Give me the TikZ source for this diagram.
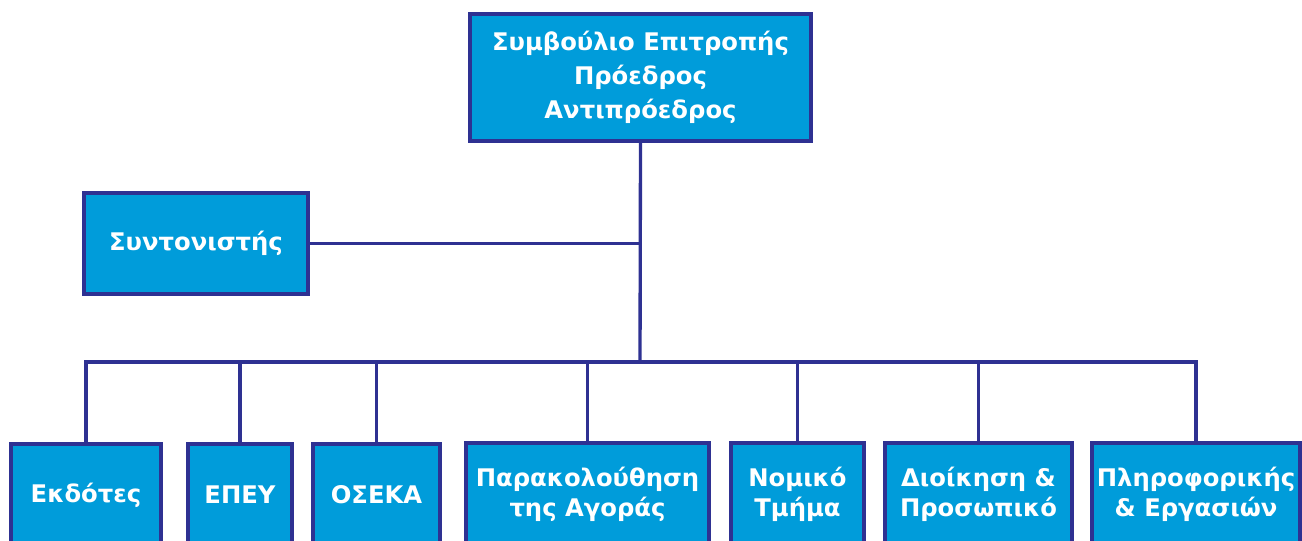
\documentclass[tikz,border=0pt]{standalone}
\usepackage{fontspec}
\setmainfont{DejaVu Sans}
\definecolor{boxfill}{HTML}{009CDA}
\definecolor{boxline}{HTML}{2E3192}
\begin{document}
\begin{tikzpicture}[x=0.75pt,y=-0.75pt,
  orgbox/.style={draw=boxline,fill=boxfill,line width=2.3pt,text=white,
    font=\fontsize{18.2}{22.5}\selectfont\bfseries,align=center,inner sep=0pt},
  link/.style={draw=boxline,line width=2.5pt}]
\useasboundingbox (0,0) rectangle (1302,540);
\clip (0,0) rectangle (1302,540);
\node[orgbox,minimum width=255.75pt,minimum height=95.25pt,
  font=\fontsize{18.2}{25.5}\selectfont\bfseries] (top) at (640.5,77.5)
  {Συμβούλιο Επιτροπής\\Πρόεδρος\\Αντιπρόεδρος};
\node[orgbox,minimum width=168pt,minimum height=75.75pt] (syn) at (196,243.5) {Συντονιστής};
\node[orgbox,minimum width=112.5pt,minimum height=76.5pt] (ekd) at (86,495) {Εκδότες};
\node[orgbox,minimum width=78pt,minimum height=76.5pt] (epey) at (240,495) {ΕΠΕΥ};
\node[orgbox,minimum width=95.25pt,minimum height=76.5pt] (oseka) at (376.5,495) {ΟΣΕΚΑ};
\node[orgbox,minimum width=182.25pt,minimum height=76.5pt] (par) at (587.5,494) {Παρακολούθηση\\της Αγοράς};
\node[orgbox,minimum width=99.75pt,minimum height=76.5pt] (nom) at (797.5,494) {Νομικό\\Τμήμα};
\node[orgbox,minimum width=140.25pt,minimum height=76.5pt] (dio) at (978.5,494) {Διοίκηση \&\\Προσωπικό};
\node[orgbox,minimum width=156pt,minimum height=76.5pt] (pli) at (1196,494) {Πληροφορικής\\\& Εργασιών};
\coordinate (bus) at (640,362);
\path[link] (top.south) -- (bus);
\path[link] (syn.east) -- (syn.east -| top.south);
\path[link] (ekd.north) -- (bus -| ekd.north) -- (bus -| pli.north) -- (pli.north);
\foreach \n in {epey,oseka,par,nom,dio}
  \path[link] (bus -| \n.north) -- (\n.north);
\end{tikzpicture}
\end{document}
